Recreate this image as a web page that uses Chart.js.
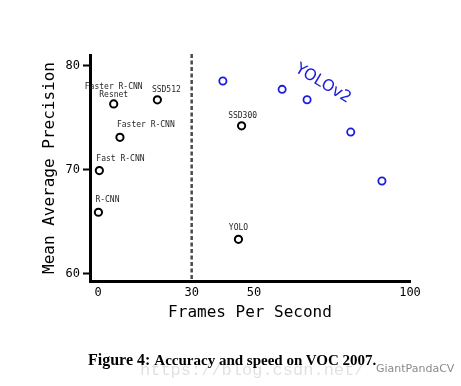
<!DOCTYPE html>
<html><head><meta charset="utf-8">
<script src="https://cdn.jsdelivr.net/npm/chart.js@4"></script>
<style>
body{margin:0;background:#fff;}
#wrap{position:relative;width:461px;height:386px;overflow:hidden;}
#c{position:absolute;left:0;top:0;}
#cap{position:absolute;left:88px;top:352px;white-space:nowrap;font-family:"Liberation Serif","Times New Roman",serif;font-weight:bold;color:#000;line-height:16px;}
#cap .a{font-size:16px;}
#cap .b{font-size:15px;}
#wm{position:absolute;left:140px;top:361px;white-space:nowrap;font-family:"Liberation Mono",monospace;font-size:17px;color:rgba(0,0,0,0.12);}
#wm2{position:absolute;left:376px;top:362px;white-space:nowrap;font-family:"DejaVu Sans",sans-serif;font-size:11px;color:#8a8a8a;text-shadow:0 0 2px #fff,0 0 2px #fff;}
</style></head>
<body>
<div id="wrap">
<canvas id="c" width="461" height="386"></canvas>
<div id="cap"><span class="a">Figure 4: </span><span class="b">Accuracy and speed on VOC 2007.</span></div>
<div id="wm">https://blog.csdn.net/</div>
<div id="wm2">GiantPandaCV</div>
</div>
<script>
// ---- data ----
const otherNames = ["R-CNN", "Fast R-CNN", "Faster R-CNN", "Faster R-CNN\nResnet", "SSD512", "SSD300", "YOLO"];
const otherFps   = [0.1, 0.4, 7, 5, 19, 46, 45];
const otherMap   = [65.9, 69.9, 73.1, 76.3, 76.7, 74.2, 63.3];
const yolov2Name = "YOLOv2";
const yolov2Fps  = [40, 59, 67, 81, 91];
const yolov2Map  = [78.5, 77.7, 76.7, 73.6, 68.9];
const xTicks = [0, 30, 50, 100];
const yTicks = [60, 70, 80];
const fpsCutoff = 30;

// ---- label placement (style) ----
const labelPlacement = [
  {align:"left", dx:-3, dy:-12},
  {align:"left", dx:-3, dy:-12},
  {align:"left", dx:-3, dy:-12},
  {align:"center", dx:0, dy:-9},
  {align:"center", dx:9, dy:-10},
  {align:"center", dx:1, dy:-10},
  {align:"center", dx:0, dy:-11}
];
const MONO = "'DejaVu Sans Mono', monospace";
const BLUE = "#1c1cdc";

const annotate = {
  id: "annotate",
  beforeDatasetsDraw(chart) {
    const {ctx, chartArea, scales:{x}} = chart;
    const px = x.getPixelForValue(fpsCutoff);
    ctx.save();
    ctx.strokeStyle = "#4a4a4a";
    ctx.lineWidth = 2.5;
    ctx.setLineDash([4, 2.5]);
    ctx.beginPath();
    ctx.moveTo(px, chartArea.top - 1);
    ctx.lineTo(px, chartArea.bottom);
    ctx.stroke();
    ctx.restore();
  },
  afterDatasetsDraw(chart) {
    const {ctx, scales:{x, y}} = chart;
    ctx.save();
    ctx.font = "8px " + MONO;
    ctx.fillStyle = "#262626";
    ctx.textBaseline = "middle";
    otherNames.forEach((name, i) => {
      const p = labelPlacement[i];
      const px = x.getPixelForValue(otherFps[i]) + p.dx;
      const py = y.getPixelForValue(otherMap[i]) + p.dy;
      ctx.textAlign = p.align;
      const lines = name.split("\n");
      lines.forEach((ln, k) => {
        ctx.fillText(ln, px, py + (k - (lines.length - 1)) * 8);
      });
    });
    // YOLOv2 rotated label
    const bx = x.getPixelForValue(yolov2Fps[2]) + 16;
    const by = y.getPixelForValue(yolov2Map[2]) - 16;
    ctx.translate(bx, by);
    ctx.rotate(31 * Math.PI / 180);
    ctx.font = "16px 'DejaVu Sans', sans-serif";
    ctx.fillStyle = BLUE;
    ctx.textAlign = "center";
    ctx.fillText(yolov2Name, 0, 0);
    ctx.restore();
  }
};

new Chart(document.getElementById("c"), {
  type: "scatter",
  data: {
    datasets: [
      {
        label: "Other detectors",
        data: otherFps.map((v, i) => ({x: v, y: otherMap[i]})),
        pointRadius: 3.6,
        pointBorderWidth: 2,
        borderColor: "#000",
        backgroundColor: "#fff"
      },
      {
        label: yolov2Name,
        data: yolov2Fps.map((v, i) => ({x: v, y: yolov2Map[i]})),
        pointRadius: 3.6,
        pointBorderWidth: 1.8,
        borderColor: BLUE,
        backgroundColor: "#fff"
      }
    ]
  },
  options: {
    responsive: false,
    animation: false,
    devicePixelRatio: 1,
    layout: {padding: {left: 0, right: 51, top: 55, bottom: 0}},
    plugins: {legend: {display: false}, tooltip: {enabled: false}},
    scales: {
      x: {
        type: "linear", min: -2.6, max: 100,
        afterBuildTicks: s => { s.ticks = xTicks.map(v => ({value: v})); },
        afterFit: s => { s.height = 105; },
        grid: {drawOnChartArea: false, drawTicks: false},
        border: {display: true, color: "#000", width: 3},
        ticks: {font: {family: MONO, size: 12}, color: "#000", padding: 5, maxRotation: 0, autoSkip: false},
        title: {display: true, text: "Frames Per Second", color: "#000",
                font: {family: MONO, size: 16}, padding: {top: 0, bottom: 64}}
      },
      y: {
        type: "linear", min: 59.3, max: 81,
        afterBuildTicks: s => { s.ticks = yTicks.map(v => ({value: v})); },
        afterFit: s => { s.width = 90; },
        grid: {drawOnChartArea: false, drawTicks: true, tickLength: 7, tickWidth: 2, tickColor: "#000"},
        border: {display: true, color: "#000", width: 3},
        ticks: {font: {family: MONO, size: 12}, color: "#000", padding: 3},
        title: {display: true, text: "Mean Average Precision", color: "#000",
                font: {family: MONO, size: 16}, padding: {top: 40, bottom: 0}}
      }
    }
  },
  plugins: [annotate]
});
</script>
</body></html>
